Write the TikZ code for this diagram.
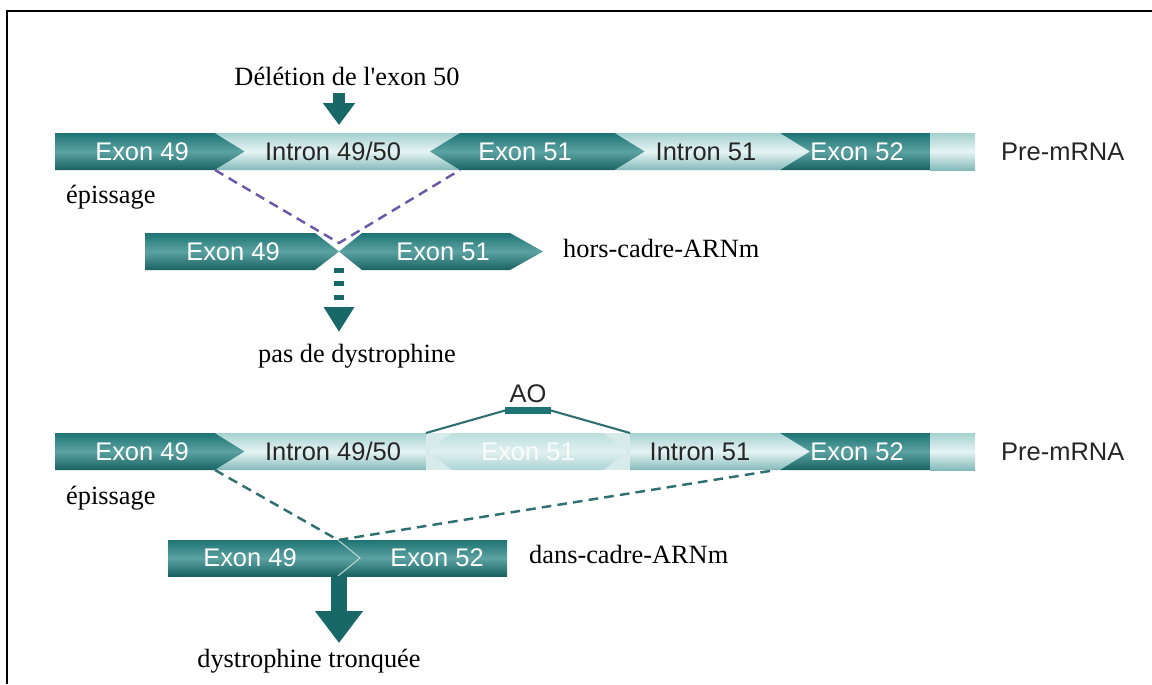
\documentclass[tikz,border=0pt]{standalone}
\usepackage{fontspec}
\setmainfont{Liberation Serif}
\setsansfont{Liberation Sans}
\usetikzlibrary{arrows.meta}

\definecolor{exondark}{RGB}{30,116,116}
\definecolor{exonmid}{RGB}{92,162,162}
\definecolor{intronedge}{RGB}{165,208,208}
\definecolor{intronmid}{RGB}{230,244,244}
\definecolor{fadedexon}{RGB}{188,222,222}
\definecolor{splicepurple}{RGB}{108,88,168}
\definecolor{spliceteal}{RGB}{48,112,112}
\definecolor{arrowteal}{RGB}{24,104,104}

\tikzset{
  exon/.style={top color=exondark, bottom color=exondark!85!black, middle color=exonmid},
  intron/.style={top color=intronedge, bottom color=intronedge!75!exondark, middle color=intronmid},
  faded/.style={top color=fadedexon, bottom color=fadedexon!90!exondark, middle color=fadedexon!45!white},
  exonlabel/.style={font=\sffamily\fontsize{14.5}{17}\selectfont, text=white},
  intronlabel/.style={font=\sffamily\fontsize{14.5}{17}\selectfont, text=black!85},
  note/.style={font=\fontsize{15}{18}\selectfont, anchor=base},
  splice/.style={line width=1.4pt, dash pattern=on 5.5pt off 3.5pt},
  bigarrow/.style={arrowteal, -{Triangle[width=0.92cm, length=0.64cm]}},
}

\begin{document}
\begin{tikzpicture}[x=0.02cm, y=-0.02cm]
  \useasboundingbox (0,0) rectangle (1152,684);

  % Frame
  \draw[line width=1.3pt] (7,684) -- (7,11) -- (1152,11);

  % First pre-mRNA (exon 50 deleted)
  \def\ya{133}
  \def\ym{151.5}
  \def\yb{170}
  \shade[exon]   (55,\ya) -- (215,\ya) -- (245,\ym) -- (215,\yb) -- (55,\yb) -- cycle;
  \shade[intron] (215,\ya) -- (460,\ya) -- (430,\ym) -- (460,\yb) -- (215,\yb) -- (245,\ym) -- cycle;
  \shade[exon]   (430,\ym) -- (460,\ya) -- (615,\ya) -- (645,\ym) -- (615,\yb) -- (460,\yb) -- cycle;
  \shade[intron] (615,\ya) -- (780,\ya) -- (810,\ym) -- (780,\yb) -- (615,\yb) -- (645,\ym) -- cycle;
  \shade[exon]   (780,\ya) -- (930,\ya) -- (930,\yb) -- (780,\yb) -- (810,\ym) -- cycle;
  \shade[intron] (930,\ya) rectangle (975,\yb);

  \node[exonlabel]   (exa49) at (142,\ym) {Exon 49};
  \node[intronlabel] (ina50) at (333,\ym) {Intron 49/50};
  \node[exonlabel]   (exa51) at (525,\ym) {Exon 51};
  \node[intronlabel] (ina51) at (706,\ym) {Intron 51};
  \node[exonlabel]   (exa52) at (857,\ym) {Exon 52};
  \node[intronlabel, anchor=west] (prea) at (995,\ym) {Pre-mRNA};

  % Deletion arrow
  \node[note] (del) at (347,85) {Délétion de l\textquotesingle exon 50};
  \coordinate (delfoot) at (339,93);
  \coordinate (delhit) at (339,125);
  \draw[bigarrow, line width=6.8pt, -{Triangle[width=0.62cm, length=0.44cm]}] (delfoot) -- (delhit);

  \node[note, anchor=base west] (episa) at (60,203) {épissage};

  % Out-of-frame mRNA
  \shade[exon] (145,233) -- (315,233) -- (339,251.5) -- (315,270) -- (145,270) -- cycle;
  \shade[exon] (339,251.5) -- (362,233) -- (510,233) -- (543,251.5) -- (510,270) -- (362,270) -- cycle;
  \node[exonlabel] (exb49) at (233,251.5) {Exon 49};
  \node[exonlabel] (exb51) at (443,251.5) {Exon 51};
  \node[note, anchor=base west] (hors) at (557,257) {hors-cadre-ARNm};

  \coordinate (cuta49) at (215,\yb);
  \coordinate (cuta51) at (460,\yb);
  \coordinate (joinb) at (339,243);
  \draw[splice, splicepurple] (cuta49) -- (joinb) -- (cuta51);

  \node[note] (pasdys) at (357,362) {pas de dystrophine};
  \coordinate (outb) at (339,268);
  \coordinate (tipb) at (339,332);
  \draw[bigarrow, line width=5.7pt, dash pattern=on 2.8pt off 4.8pt,
        -{Triangle[width=0.58cm, length=0.5cm]}] (outb) -- (tipb);

  % Second pre-mRNA (AO masks exon 51)
  \def\ya{433}
  \def\ym{451.5}
  \def\yb{470}
  \shade[exon]   (55,\ya) -- (215,\ya) -- (245,\ym) -- (215,\yb) -- (55,\yb) -- cycle;
  \shade[intron] (215,\ya) -- (426,\ya) -- (426,\yb) -- (215,\yb) -- (245,\ym) -- cycle;
  \fill[fadedexon!60!white] (426,\ya) rectangle (630,\yb);
  \shade[faded]  (428,\ym) -- (452,\ya) -- (603,\ya) -- (628,\ym) -- (603,\yb) -- (452,\yb) -- cycle;
  \shade[intron] (630,\ya) -- (780,\ya) -- (810,\ym) -- (780,\yb) -- (630,\yb) -- cycle;
  \shade[exon]   (780,\ya) -- (930,\ya) -- (930,\yb) -- (780,\yb) -- (810,\ym) -- cycle;
  \shade[intron] (930,\ya) rectangle (975,\yb);

  \node[exonlabel]   (exc49) at (142,\ym) {Exon 49};
  \node[intronlabel] (inc50) at (333,\ym) {Intron 49/50};
  \node[exonlabel, text=white!92!fadedexon] (exc51) at (528,\ym) {Exon 51};
  \node[intronlabel] (inc51) at (700,\ym) {Intron 51};
  \node[exonlabel]   (exc52) at (857,\ym) {Exon 52};
  \node[intronlabel, anchor=west] (prec) at (995,\ym) {Pre-mRNA};

  % Antisense oligo
  \node[intronlabel] (ao) at (528,394) {AO};
  \fill[exondark] (505,407) rectangle (551,414);
  \coordinate (aoleft) at (505,410.5);
  \coordinate (aoright) at (551,410.5);
  \coordinate (maskleft) at (426,\ya);
  \coordinate (maskright) at (630,\ya);
  \draw[spliceteal, line width=1.2pt] (maskleft) -- (aoleft);
  \draw[spliceteal, line width=1.2pt] (aoright) -- (maskright);

  \node[note, anchor=base west] (episc) at (60,504) {épissage};

  % In-frame mRNA
  \shade[exon] (168,540) rectangle (507,576);
  \draw[white!70!exondark, line width=0.6pt] (338,540) -- (360,558) -- (338,576);
  \node[exonlabel] (exd49) at (250,558) {Exon 49};
  \node[exonlabel] (exd52) at (437,558) {Exon 52};
  \node[note, anchor=base west] (dans) at (523,563) {dans-cadre-ARNm};

  \coordinate (cutc49) at (215,\yb);
  \coordinate (cutc52) at (776,\yb);
  \coordinate (joind) at (338,540);
  \draw[splice, spliceteal] (cutc49) -- (joind) -- (cutc52);

  \node[note] (trunc) at (309,667) {dystrophine tronquée};
  \coordinate (outd) at (339,577);
  \coordinate (tipd) at (339,643);
  \draw[bigarrow, line width=9pt] (outd) -- (tipd);

\end{tikzpicture}
\end{document}
